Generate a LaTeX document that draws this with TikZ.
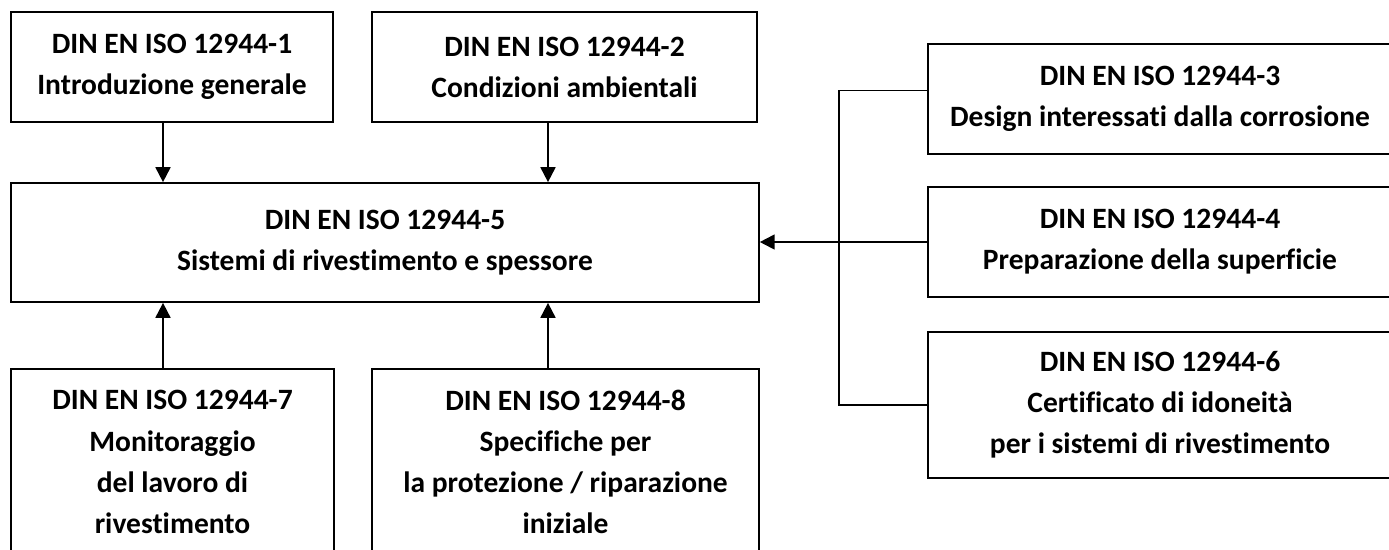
\documentclass[tikz,border=0pt]{standalone}
\usepackage{fontspec}
\setmainfont{Carlito}[Ligatures=NoCommon]
\usetikzlibrary{arrows.meta}

\begin{document}
\begin{tikzpicture}[x=0.02cm, y=-0.02cm,
    box/.style={draw, line width=1pt, align=center, inner sep=0pt,
        font=\fontsize{16.8pt}{23.4pt}\selectfont\bfseries},
    link/.style={line width=1.1pt, -{Triangle[length=8.5pt, width=8.5pt]}},
    bracket/.style={line width=0.75pt}]
    \useasboundingbox (0,0) rectangle (1389,549);

    % Upper parts
    \node[box, minimum width=6.44cm, minimum height=2.2cm] (p1) at (172,67)
        {DIN EN ISO 12944-1\\Introduzione generale};
    \node[box, minimum width=7.7cm, minimum height=2.2cm] (p2) at (564.5,67)
        {DIN EN ISO 12944-2\\Condizioni ambientali};

    % Coating systems (centre)
    \node[box, minimum width=14.96cm, minimum height=2.38cm] (p5) at (385,242.5)
        {DIN EN ISO 12944-5\\Sistemi di rivestimento e spessore};

    % Lower parts
    \node[box, minimum width=6.46cm, minimum height=3.72cm] (p7) at (172.5,462)
        {DIN EN ISO 12944-7\\Monitoraggio\\del lavoro di\\rivestimento};
    \node[box, minimum width=7.74cm, minimum height=3.72cm] (p8) at (565.5,462)
        {DIN EN ISO 12944-8\\Specifiche per\\la protezione / riparazione\\iniziale};

    % Right column
    \node[box, minimum width=9.28cm, minimum height=2.2cm] (p3) at (1160,99)
        {DIN EN ISO 12944-3\\Design interessati dalla corrosione};
    \node[box, minimum width=9.28cm, minimum height=2.2cm] (p4) at (1160,242)
        {DIN EN ISO 12944-4\\Preparazione della superficie};
    \node[box, minimum width=9.28cm, minimum height=2.92cm] (p6) at (1160,405)
        {DIN EN ISO 12944-6\\Certificato di idoneità\\per i sistemi di rivestimento};

    % Arrow columns and bracket line
    \coordinate (colA) at (163,0);
    \coordinate (colB) at (548,0);
    \coordinate (bus) at (839,242);

    % Arrows into part 5
    \draw[link] (p1.south -| colA) -- (p5.north -| colA);
    \draw[link] (p2.south -| colB) -- (p5.north -| colB);
    \draw[link] (p7.north -| colA) -- (p5.south -| colA);
    \draw[link] (p8.north -| colB) -- (p5.south -| colB);
    \draw[link] (p4.west) -- (p4.west -| p5.east);

    % Bracket joining parts 3 and 6
    \draw[bracket] ([yshift=5pt]p3.west) -| (bus) |- (p6.west);
\end{tikzpicture}
\end{document}
